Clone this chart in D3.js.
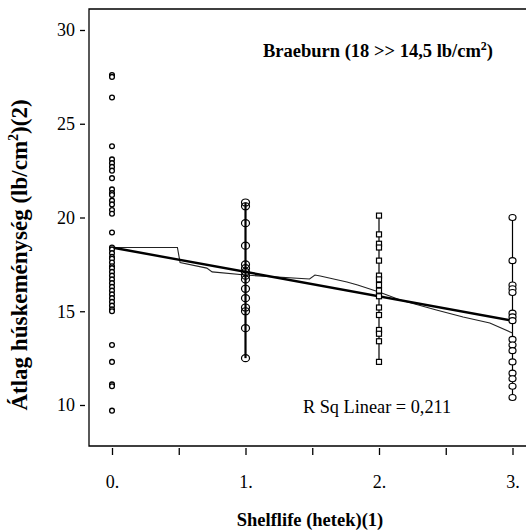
<!DOCTYPE html>
<html>
<head>
<meta charset="utf-8">
<script src="https://cdn.jsdelivr.net/npm/d3@7"></script>
<style>
  body { margin: 0; background: #fff; }
  text { font-family: "Liberation Serif", "Times New Roman", serif; fill: #000; }
</style>
</head>
<body>
<div id="chart"></div>
<script>
// weeks on the x axis
const weeks = [0, 1, 2, 3];
const weekLabels = ["0.", "1.", "2.", "3."];
const yTicks = [10, 15, 20, 25, 30];

// firmness readings per week (lb/cm2)
const week0 = [27.6, 27.5, 26.4, 23.8, 23.1, 22.9, 22.7, 22.5, 22.1, 21.5, 21.3, 21.2, 20.9, 20.7, 20.4, 20.2,
  19.2, 18.4, 18.3, 18.1, 17.9, 17.8, 17.6, 17.4, 17.3, 17.1, 16.9, 16.7, 16.5, 16.3, 16.1, 15.9, 15.7,
  15.5, 15.3, 15.1, 15.0, 13.2, 12.3, 11.1, 11.0, 9.7];
const week1 = [20.8, 20.6, 19.7, 18.5, 17.5, 17.3, 17.1, 16.9, 16.7, 16.2, 15.7, 15.2, 15.0, 14.1, 12.5];
const week2 = [20.1, 19.1, 18.6, 18.4, 17.7, 16.9, 16.7, 16.4, 16.1, 15.8, 15.2, 14.8, 14.0, 13.8, 13.4, 12.3];
const week3 = [20.0, 17.7, 16.4, 16.2, 16.0, 14.9, 14.7, 14.5, 13.5, 13.2, 12.9, 12.3, 11.7, 11.4, 11.0, 10.4];

// linear fit ends
const linWeeks = [0, 3];
const linValues = [18.4, 14.5];

// thin smoothed fit line
const fitWeeks = [0, 0.49, 0.51, 0.71, 0.75, 1.0, 1.48, 1.52, 1.56, 1.76, 1.84, 2.0, 2.16, 2.43, 2.63, 2.83, 3.0];
const fitValues = [18.4, 18.4, 17.6, 17.3, 17.1, 16.93, 16.72, 16.93, 16.88, 16.56, 16.4, 16.03, 15.6, 15.07, 14.69, 14.37, 13.84];

const W = 526, H = 530;
const plotLeft = 89, plotTop = 9, plotBottom = 446;

const svg = d3.select("#chart").append("svg")
  .attr("width", W).attr("height", H);

const x = d3.scaleLinear().domain([0, 3]).range([112, 512.5]);
const y = d3.scaleLinear().domain([10, 30]).range([405, 30]);

// frame: top line, left and bottom axes (box runs off the right edge)
svg.append("path")
  .attr("d", `M${W},${plotTop}H${plotLeft}V${plotBottom}H${W}`)
  .attr("fill", "none").attr("stroke", "#000").attr("stroke-width", 1.3);

// y axis
const yAxis = svg.append("g")
  .attr("transform", `translate(${plotLeft - 4},0)`)
  .call(d3.axisLeft(y).tickValues(yTicks).tickSize(5).tickPadding(5).tickFormat(d3.format("d")));
yAxis.select(".domain").remove();
yAxis.selectAll("line").attr("stroke", "#000").attr("stroke-width", 1.3);
yAxis.selectAll("text").attr("font-size", "18px").attr("font-family", "Liberation Serif, serif");

// x axis, major ticks labelled, half-week ticks plain
const xAxis = svg.append("g")
  .attr("transform", `translate(0,${plotBottom + 2})`)
  .call(d3.axisBottom(x).tickValues([0, 0.5, 1, 1.5, 2, 2.5, 3]).tickSize(7).tickPadding(20)
    .tickFormat(d => Number.isInteger(d) ? weekLabels[weeks.indexOf(d)] : ""));
xAxis.select(".domain").remove();
xAxis.selectAll("line").attr("stroke", "#000").attr("stroke-width", 1.3);
xAxis.selectAll("text").attr("font-size", "18px").attr("font-family", "Liberation Serif, serif");

// vertical connectors in weeks 1-3
const cols = [week0, week1, week2, week3];
[[1, 2.2], [2, 1.2], [3, 1.2]].forEach(([w, sw]) => {
  svg.append("line")
    .attr("x1", x(w)).attr("x2", x(w))
    .attr("y1", y(d3.max(cols[w]))).attr("y2", y(d3.min(cols[w])))
    .attr("stroke", "#000").attr("stroke-width", sw);
});

// fit lines
svg.append("path")
  .datum(fitWeeks.map((w, i) => [w, fitValues[i]]))
  .attr("d", d3.line().x(d => x(d[0])).y(d => y(d[1])))
  .attr("fill", "none").attr("stroke", "#222").attr("stroke-width", 1.1);

svg.append("path")
  .datum(linWeeks.map((w, i) => [w, linValues[i]]))
  .attr("d", d3.line().x(d => x(d[0])).y(d => y(d[1])))
  .attr("fill", "none").attr("stroke", "#000").attr("stroke-width", 2.4);

// markers
svg.append("g").selectAll("circle").data(week0).enter().append("circle")
  .attr("cx", x(0)).attr("cy", d => y(d)).attr("r", 2.4)
  .attr("fill", "#fff").attr("stroke", "#000").attr("stroke-width", 1.3);

svg.append("g").selectAll("ellipse").data(week1).enter().append("ellipse")
  .attr("cx", x(1)).attr("cy", d => y(d)).attr("rx", 4).attr("ry", 3.5)
  .attr("fill", "none").attr("stroke", "#000").attr("stroke-width", 1.2);

svg.append("g").selectAll("rect").data(week2).enter().append("rect")
  .attr("x", x(2) - 2.5).attr("y", d => y(d) - 2.5).attr("width", 5).attr("height", 5)
  .attr("fill", "#fff").attr("stroke", "#000").attr("stroke-width", 1.2);

svg.append("g").selectAll("ellipse").data(week3).enter().append("ellipse")
  .attr("cx", x(3)).attr("cy", d => y(d)).attr("rx", 3.5).attr("ry", 3)
  .attr("fill", "#fff").attr("stroke", "#000").attr("stroke-width", 1.2);

// annotations
const braeburn = svg.append("text")
  .attr("x", 378).attr("y", 57).attr("text-anchor", "middle")
  .attr("font-size", "18.5px").attr("font-weight", "bold");
braeburn.append("tspan").text("Braeburn (18 >> 14,5 lb/cm");
braeburn.append("tspan").attr("dy", -7).attr("font-size", "12px").text("2");
braeburn.append("tspan").attr("dy", 7).text(")");

svg.append("text")
  .attr("x", 377).attr("y", 413).attr("text-anchor", "middle")
  .attr("font-size", "18.3px")
  .text("R Sq Linear = 0,211");

// axis titles
svg.append("text")
  .attr("x", 310).attr("y", 526).attr("text-anchor", "middle")
  .attr("font-size", "18.5px").attr("font-weight", "bold")
  .text("Shelflife (hetek)(1)");

const yt = svg.append("text")
  .attr("transform", "translate(27,255) rotate(-90)")
  .attr("text-anchor", "middle")
  .attr("font-size", "23px").attr("font-weight", "bold");
yt.append("tspan").text("Átlag húskeménység (lb/cm");
yt.append("tspan").attr("dy", -9).attr("font-size", "14px").text("2");
yt.append("tspan").attr("dy", 9).text(")(2)");
</script>
</body>
</html>
